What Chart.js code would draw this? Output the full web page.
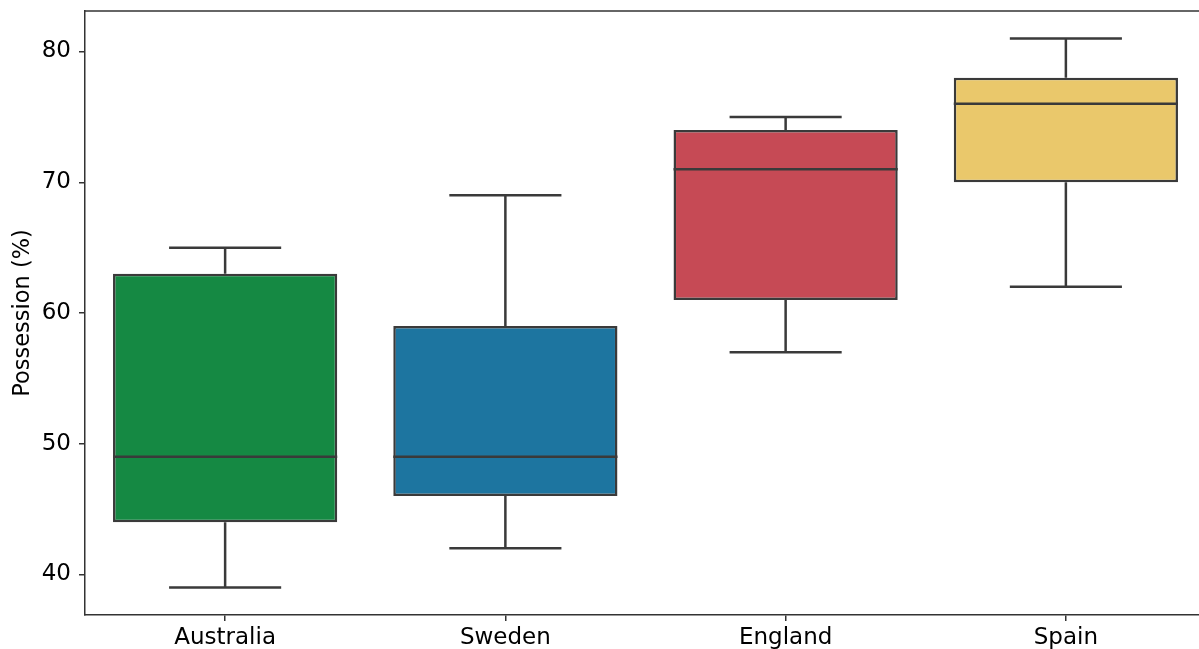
<!DOCTYPE html>
<html>
<head>
<meta charset="utf-8">
<script src="https://cdn.jsdelivr.net/npm/chart.js@4"></script>
<style>
  html, body { margin: 0; padding: 0; overflow: hidden; background: #fff; }
  #wrap { width: 1206px; height: 680px; position: relative; }
</style>
</head>
<body>
<div id="wrap"><canvas id="myChart"></canvas></div>
<script>
const countries = ["Australia", "Sweden", "England", "Spain"];
const whiskerLow = [39, 42, 57, 62];
const q1 = [44, 46, 61, 70];
const median = [49, 49, 71, 76];
const q3 = [63, 59, 74, 78];
const whiskerHigh = [65, 69, 75, 81];
const yTicks = [40, 50, 60, 70, 80];

const boxColors = ["#158943", "#1d75a0", "#c64a55", "#eac86b"];
const lineColor = "#3a3a3a";
const fontFamily = "'DejaVu Sans', sans-serif";

const ctx = document.getElementById("myChart");

// whiskers, caps and medians go through the scales
const boxParts = {
  id: "boxParts",
  beforeDatasetsDraw(chart) {
    const { ctx, scales: { x, y } } = chart;
    const step = x.getPixelForValue(1) - x.getPixelForValue(0);
    ctx.save();
    ctx.strokeStyle = lineColor;
    ctx.lineWidth = 2.5;
    countries.forEach((c, i) => {
      const cx = x.getPixelForValue(i);
      const cap = step * 0.2;
      ctx.beginPath();
      ctx.moveTo(cx, y.getPixelForValue(whiskerLow[i]));
      ctx.lineTo(cx, y.getPixelForValue(q1[i]));
      ctx.moveTo(cx, y.getPixelForValue(q3[i]));
      ctx.lineTo(cx, y.getPixelForValue(whiskerHigh[i]));
      ctx.moveTo(cx - cap, y.getPixelForValue(whiskerLow[i]));
      ctx.lineTo(cx + cap, y.getPixelForValue(whiskerLow[i]));
      ctx.moveTo(cx - cap, y.getPixelForValue(whiskerHigh[i]));
      ctx.lineTo(cx + cap, y.getPixelForValue(whiskerHigh[i]));
      ctx.stroke();
    });
    ctx.restore();
  },
  afterDatasetsDraw(chart) {
    const { ctx, scales: { x, y }, chartArea } = chart;
    const step = x.getPixelForValue(1) - x.getPixelForValue(0);
    ctx.save();
    ctx.strokeStyle = lineColor;
    ctx.lineWidth = 2.5;
    countries.forEach((c, i) => {
      const cx = x.getPixelForValue(i);
      const half = step * 0.4;
      const my = y.getPixelForValue(median[i]);
      ctx.beginPath();
      ctx.moveTo(cx - half, my);
      ctx.lineTo(cx + half, my);
      ctx.stroke();
    });
    // top spine
    ctx.strokeStyle = "#333";
    ctx.lineWidth = 1.5;
    ctx.beginPath();
    ctx.moveTo(chartArea.left, chartArea.top);
    ctx.lineTo(chartArea.right, chartArea.top);
    ctx.stroke();
    ctx.restore();
  },
};

new Chart(ctx, {
  type: "bar",
  data: {
    labels: countries,
    datasets: [
      {
        data: countries.map((c, i) => [q1[i], q3[i]]),
        backgroundColor: boxColors,
        borderColor: lineColor,
        borderWidth: 2.5,
        borderSkipped: false,
        barPercentage: 0.8,
        categoryPercentage: 1.0,
      },
    ],
  },
  options: {
    responsive: true,
    maintainAspectRatio: false,
    animation: false,
    devicePixelRatio: 1,
    layout: { padding: { top: 11, left: 0, right: 0, bottom: 0 } },
    plugins: {
      legend: { display: false },
      tooltip: { enabled: false },
    },
    scales: {
      x: {
        grid: { offset: false, drawOnChartArea: false, drawTicks: true, tickLength: 6, color: "#333", lineWidth: 1.5 },
        border: { display: true, color: "#333", width: 1.5 },
        ticks: { color: "#000", padding: 3, font: { family: fontFamily, size: 23 } },
        afterFit(scale) {
          scale.height = 65;
          scale.paddingLeft = 0;
          scale.paddingRight = 0;
        },
      },
      y: {
        min: 36.9,
        max: 83.1,
        grid: { drawOnChartArea: false, drawTicks: true, tickLength: 6, color: "#333", lineWidth: 1.5 },
        border: { display: true, color: "#333", width: 1.5 },
        ticks: { color: "#000", padding: 8, font: { family: fontFamily, size: 23 } },
        afterBuildTicks(scale) { scale.ticks = yTicks.map((v) => ({ value: v })); },
        title: {
          display: true,
          text: "Possession (%)",
          color: "#000",
          font: { family: fontFamily, size: 22.5 },
          padding: { top: 10, bottom: 0 },
        },
        afterFit(scale) {
          scale.width = 85;
          scale.paddingTop = 0;
          scale.paddingBottom = 0;
        },
      },
    },
  },
  plugins: [boxParts],
});
</script>
</body>
</html>
